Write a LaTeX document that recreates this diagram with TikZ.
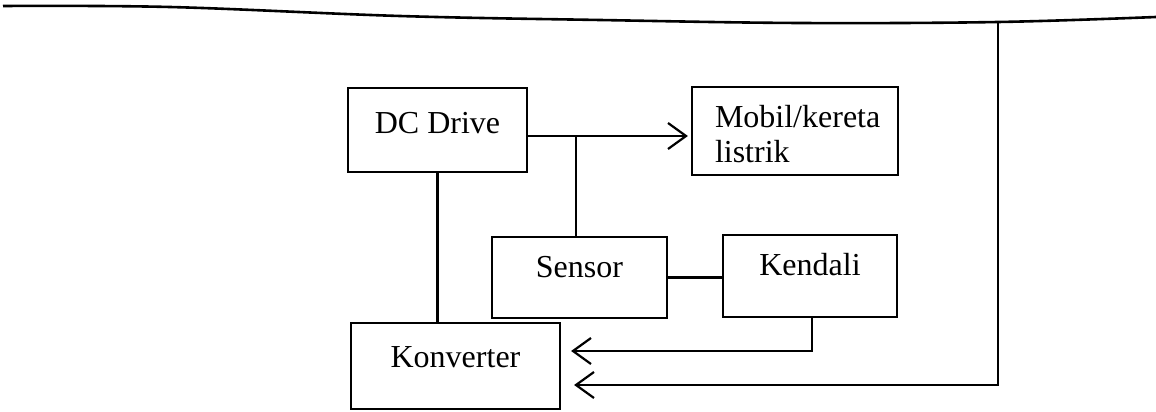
\documentclass[tikz,border=0pt]{standalone}
\usepackage{fontspec}
\setmainfont{Liberation Serif}
\usetikzlibrary{arrows.meta}
\begin{document}
\begin{tikzpicture}[x=1pt,y=-1pt,
  box/.style={draw, line width=2.2pt, inner sep=0pt, font=\fontsize{32}{35}\selectfont},
  conn/.style={line width=2.2pt},
  arr/.style={conn, -{Straight Barb[length=18pt,width=26pt,line width=2.2pt]}}]
\useasboundingbox[fill=white] (0,0) rectangle (1156,412);
% boxes
\node[box, minimum width=179pt, text height=45pt, text depth=39pt] (dc) at (437.5,130) {DC Drive};
\node[box, minimum width=206pt, minimum height=88pt, text width=160pt, align=left] (mob) at (795,131) {\rule{0pt}{28pt}Mobil/kereta\\listrik};
\node[box, minimum width=175pt, text height=40pt, text depth=41pt] (sen) at (579.5,277.5) {Sensor};
\node[box, minimum width=174pt, text height=40pt, text depth=42pt] (ken) at (810,276) {Kendali};
\node[box, minimum width=209pt, text height=44pt, text depth=42pt] (kon) at (455.5,366) {Konverter};
% helper coordinates
\coordinate (j) at (576,136);
\coordinate (k1) at (812,351);
\coordinate (t1) at (998,22);
\coordinate (t2) at (998,385);
% top wavy line
\draw[line width=2.6pt] plot[smooth, tension=0.6] coordinates {(3,6) (170,7) (400,16) (600,20) (800,23) (998,22) (1156,17)};
% connectors
\draw[arr, shorten >=3pt] (dc.east |- j) -- (mob.west |- j);
\draw[conn] (j) -- (j |- sen.north);
\draw[conn] (dc.south) -- (dc.south |- kon.north);
\draw[conn] (sen.east) -- (sen.east -| ken.west);
\draw[arr, shorten >=10pt] (ken.south -| k1) -- (k1) -- (kon.east |- k1);
\draw[arr, shorten >=13pt] (t1) -- (t2) -- (kon.east |- t2);
\end{tikzpicture}
\end{document}
